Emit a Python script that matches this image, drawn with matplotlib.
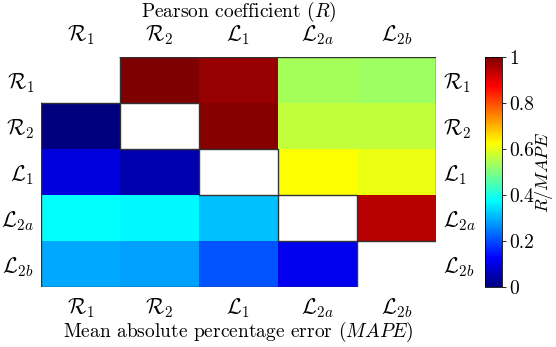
import numpy as np
import matplotlib
matplotlib.use("Agg")
import matplotlib.pyplot as plt
from matplotlib.colors import LinearSegmentedColormap

plt.rcParams['font.family'] = 'serif'
plt.rcParams['font.serif'] = ['cmr10']
plt.rcParams['mathtext.fontset'] = 'cm'
plt.rcParams['axes.formatter.use_mathtext'] = True

labels = [r'$\mathcal{R}_1$', r'$\mathcal{R}_2$', r'$\mathcal{L}_1$',
          r'$\mathcal{L}_{2a}$', r'$\mathcal{L}_{2b}$']

# upper triangle: Pearson R, lower triangle: MAPE (nan = blank)
row_R1 = [np.nan, 1.00, 0.976, 0.536, 0.530]
row_R2 = [0.00, np.nan, 0.992, 0.563, 0.565]
row_L1 = [0.095, 0.047, np.nan, 0.622, 0.608]
row_L2a = [0.375, 0.370, 0.313, np.nan, 0.945]
row_L2b = [0.292, 0.282, 0.208, 0.110, np.nan]

M = np.array([row_R1, row_R2, row_L1, row_L2a, row_L2b])
n = len(labels)

# matlab style jet
jet = LinearSegmentedColormap.from_list('mjet', [
    (0.0, (0, 0, 0.5)), (1/8, (0, 0, 1)), (3/8, (0, 1, 1)),
    (5/8, (1, 1, 0)), (7/8, (1, 0, 0)), (1.0, (0.5, 0, 0))])
jet.set_bad('white')

fig = plt.figure(figsize=(5.56, 3.47), dpi=100)
ax = fig.add_axes([0.0737, 0.173, 0.7104, 0.6628])
im = ax.imshow(np.ma.masked_invalid(M), cmap=jet, vmin=0, vmax=1,
               aspect='auto', interpolation='nearest')

# outlines of the two triangles
ux = [0.5, n - 0.5, n - 0.5]
uy = [-0.5, -0.5, n - 1.5]
for k in range(n - 1, 0, -1):
    ux += [k - 0.5, k - 0.5]
    uy += [k - 0.5, k - 1.5]
ax.plot(ux, uy, color='#333333', lw=1.0)

lx = [-0.5]
ly = [0.5]
for k in range(n - 1):
    lx += [k + 0.5, k + 0.5]
    ly += [k + 0.5, k + 1.5]
lx += [-0.5, -0.5]
ly += [n - 0.5, 0.5]
ax.plot(lx, ly, color='#333333', lw=1.0)

ax.set_xlim(-0.5, n - 0.5)
ax.set_ylim(n - 0.5, -0.5)
for s in ax.spines.values():
    s.set_visible(False)

ax.set_xticks(range(n))
ax.set_xticklabels(labels, fontsize=15.5)
ax.set_yticks(range(n))
ax.set_yticklabels(labels, fontsize=15.5)
ax.tick_params(length=0, top=True, labeltop=True, right=True, labelright=True,
               pad=7)
ax.tick_params(axis='y', pad=5)
ax.set_xlabel(r'Mean absolute percentage error ($MAPE$)', fontsize=14,
              labelpad=0)
ax.set_title(r'Pearson coefficient ($R$)', fontsize=14, y=1.175, pad=0)

cax = fig.add_axes([0.8723, 0.173, 0.0306, 0.6628])
cb = fig.colorbar(im, cax=cax)
cb.set_ticks([0, 0.2, 0.4, 0.6, 0.8, 1])
cb.set_ticklabels(['0', '0.2', '0.4', '0.6', '0.8', '1'])
cb.ax.tick_params(labelsize=14, length=3, width=0.6, pad=2)
cb.outline.set_linewidth(0.6)
cb.set_label(r'$R/MAPE$', fontsize=13)
cb.ax.yaxis.set_label_coords(2.85, 0.5)

fig.savefig('out.png', dpi=100)
